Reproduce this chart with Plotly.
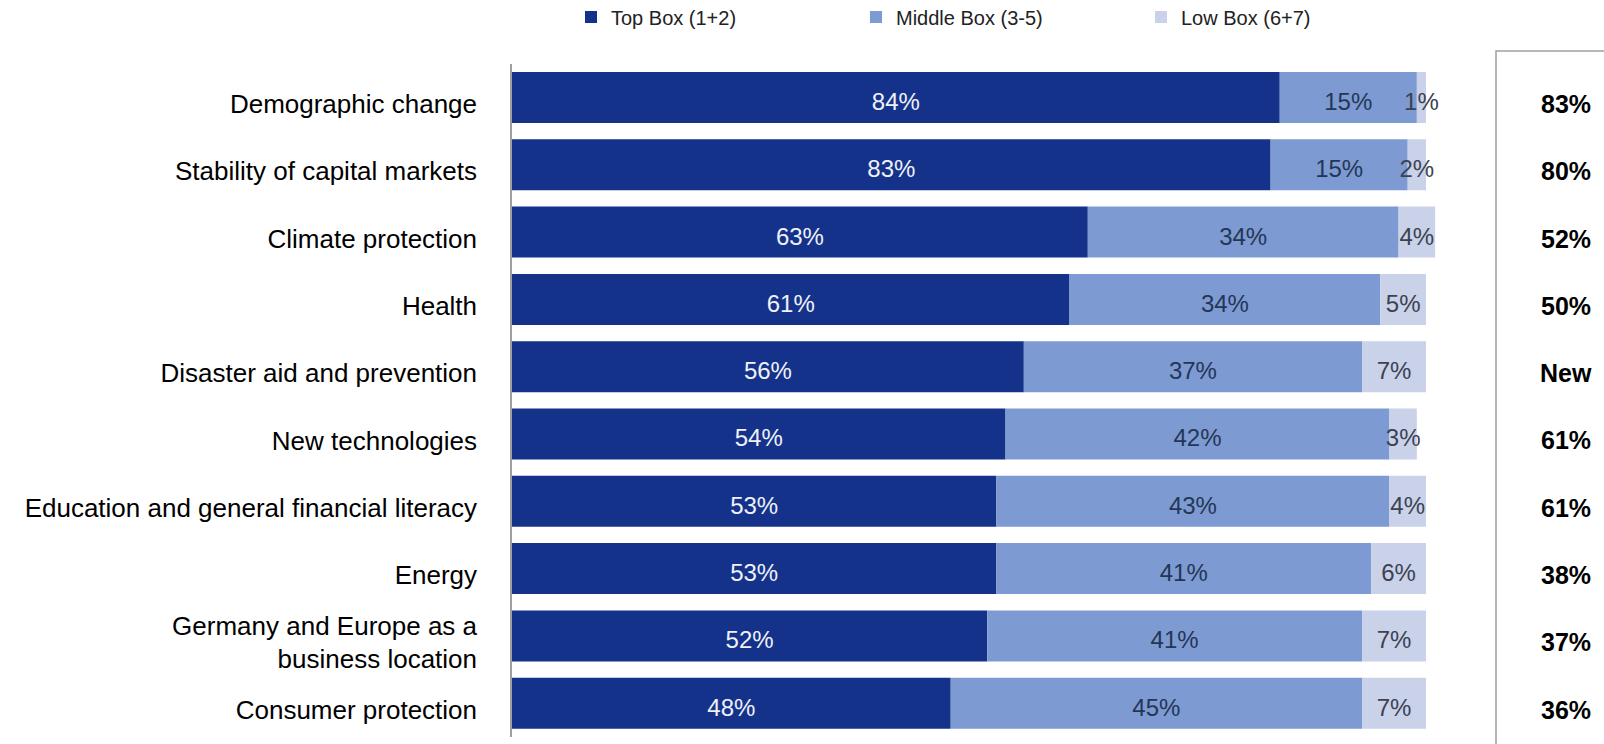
import plotly.graph_objects as go

# Survey topics and the share of answers in each box
categories = [
    "Demographic change",
    "Stability of capital markets",
    "Climate protection",
    "Health",
    "Disaster aid and prevention",
    "New technologies",
    "Education and general financial literacy",
    "Energy",
    "Germany and Europe as a<br>business location",
    "Consumer protection",
]
top_box = [84, 83, 63, 61, 56, 54, 53, 53, 52, 48]
middle_box = [15, 15, 34, 34, 37, 42, 43, 41, 41, 45]
low_box = [1, 2, 4, 5, 7, 3, 4, 6, 7, 7]
previous_top = ["83%", "80%", "52%", "50%", "New", "61%", "61%", "38%", "37%", "36%"]

series = [
    ("Top Box (1+2)", top_box, "#15328b", "#eef1f8"),
    ("Middle Box (3-5)", middle_box, "#7e9ad2", "#243656"),
    ("Low Box (6+7)", low_box, "#c9d2e9", "#3b4252"),
]

FONT = "Liberation Sans, Arial, sans-serif"

# bars sit slightly above the text baseline of each row
BAR_WIDTH = 0.758
BAR_OFFSET = -0.475

fig = go.Figure()
base = [0] * len(categories)
label_traces = []
for name, vals, color, txtcolor in series:
    fig.add_trace(go.Bar(
        name=name, y=categories, x=vals, base=base, orientation="h",
        width=BAR_WIDTH, offset=BAR_OFFSET,
        marker=dict(color=color, line=dict(width=0)),
        hoverinfo="x+name",
    ))
    mids = [b + v / 2 for b, v in zip(base, vals)]
    label_traces.append(go.Scatter(
        x=mids, y=categories, mode="text",
        text=[f"{v}%" for v in vals],
        textfont=dict(family=FONT, size=24, color=txtcolor),
        showlegend=False, hoverinfo="skip",
    ))
    base = [b + v for b, v in zip(base, vals)]

for t in label_traces:
    fig.add_trace(t)

# Comparison column on the right
for cat, val in zip(categories, previous_top):
    fig.add_annotation(
        x=1.0711, xref="paper", y=cat, yref="y", text=f"<b>{val}</b>",
        showarrow=False, xanchor="center",
        font=dict(family=FONT, size=25, color="#000000"),
    )

fig.add_shape(
    type="rect", xref="paper", yref="paper",
    x0=1.0, x1=1.2, y0=-0.05, y1=1.0193,
    line=dict(color="#a0a0a0", width=1.5), fillcolor="rgba(0,0,0,0)",
)

fig.update_layout(
    width=1604, height=744,
    margin=dict(l=512, r=108, t=64, b=7),
    paper_bgcolor="white", plot_bgcolor="white",
    barmode="overlay",
    font=dict(family=FONT, color="#000000"),
    showlegend=True,
    legend=dict(
        orientation="h", x=571 / 1604, xref="container", xanchor="left",
        y=1 - 17 / 744, yref="container", yanchor="middle",
        font=dict(family=FONT, size=20, color="#222222"),
        itemwidth=30, entrywidth=240, entrywidthmode="pixels",
        traceorder="normal",
    ),
    xaxis=dict(range=[0, 107.66], visible=False, fixedrange=True),
    yaxis=dict(
        categoryorder="array", categoryarray=categories,
        range=[9.406, -0.594],
        showline=True, linecolor="#a0a0a0", linewidth=1.5,
        showgrid=False, ticks="", ticklabelstandoff=28,
        tickfont=dict(family=FONT, size=26, color="#000000"),
    ),
)

fig.write_html("out.html")
